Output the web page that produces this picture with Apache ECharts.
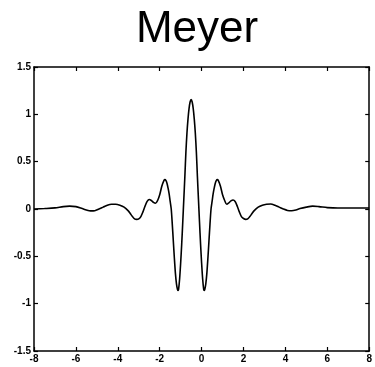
<!DOCTYPE html>
<html>
<head>
<meta charset="utf-8">
<script src="https://cdn.jsdelivr.net/npm/echarts@6/dist/echarts.min.js"></script>
<style>html,body{margin:0;padding:0;background:#fff}#c{width:375px;height:367px}</style>
</head>
<body>
<div id="c"></div>
<script>
var titleText = 'Meyer';
var xTicks = [-8, -6, -4, -2, 0, 2, 4, 6, 8];
var yTicks = [-1.5, -1, -0.5, 0, 0.5, 1, 1.5];
var tValues = [
  -8.0, -7.5, -7.0, -6.6, -6.3, -6.0, -5.7, -5.5, -5.3, -5.1, -4.9, -4.7, -4.5, -4.3, -4.1,
  -3.9, -3.7, -3.5, -3.4, -3.3, -3.2, -3.1, -3.0, -2.9, -2.8, -2.7, -2.6, -2.5, -2.4, -2.3,
  -2.2, -2.1, -2.0, -1.9, -1.8, -1.75, -1.7, -1.65, -1.6, -1.55, -1.5, -1.45, -1.4, -1.35,
  -1.3, -1.25, -1.2, -1.15, -1.12, -1.1, -1.05, -1.0, -0.95, -0.9, -0.85, -0.8, -0.75, -0.7,
  -0.65, -0.6, -0.55, -0.5, -0.45, -0.4, -0.35, -0.3, -0.25, -0.2, -0.15, -0.1, -0.05, 0.0,
  0.05, 0.1, 0.12, 0.15, 0.2, 0.25, 0.3, 0.35, 0.4, 0.45, 0.5, 0.55, 0.6, 0.65, 0.7, 0.75,
  0.8, 0.9, 1.0, 1.1, 1.2, 1.3, 1.4, 1.5, 1.6, 1.7, 1.8, 1.9, 2.0, 2.1, 2.2, 2.3, 2.4, 2.5,
  2.7, 2.9, 3.1, 3.3, 3.5, 3.7, 3.9, 4.1, 4.3, 4.5, 4.7, 5.0, 5.3, 5.6, 6.0, 6.5, 7.0, 7.5, 8.0
];
var psiValues = [
  0.0, 0.005, 0.012, 0.025, 0.03, 0.025, 0.005, -0.01, -0.02, -0.018, 0.0, 0.02, 0.04, 0.05, 0.05,
  0.04, 0.02, -0.02, -0.05, -0.08, -0.105, -0.11, -0.105, -0.08, -0.03, 0.03, 0.08, 0.10, 0.09, 0.07,
  0.06, 0.09, 0.15, 0.24, 0.30, 0.31, 0.30, 0.27, 0.22, 0.16, 0.08, 0.0, -0.16, -0.34,
  -0.52, -0.68, -0.79, -0.85, -0.86, -0.85, -0.74, -0.57, -0.37, -0.14, 0.10, 0.34, 0.60, 0.80,
  0.95, 1.06, 1.13, 1.155, 1.13, 1.06, 0.95, 0.80, 0.60, 0.34, 0.10, -0.14, -0.37, -0.57,
  -0.74, -0.85, -0.86, -0.85, -0.79, -0.68, -0.52, -0.34, -0.16, 0.0, 0.08, 0.16, 0.22, 0.27, 0.30, 0.31,
  0.30, 0.24, 0.15, 0.09, 0.05, 0.065, 0.085, 0.095, 0.08, 0.03, -0.03, -0.08, -0.10, -0.11, -0.105, -0.08, -0.05, -0.02,
  0.02, 0.04, 0.05, 0.053, 0.04, 0.02, 0.0, -0.015, -0.018, -0.01, 0.005, 0.02, 0.03, 0.025, 0.015, 0.01, 0.01, 0.01, 0.01
];

var seriesData = tValues.map(function (t, i) { return [t, psiValues[i]]; });
var chart = echarts.init(document.getElementById('c'), null, {renderer: 'canvas'});
var axisLineStyle = {show: true, onZero: false, lineStyle: {color: '#000', width: 1.5}};
var tickStyle = {show: true, inside: true, length: 4, lineStyle: {color: '#000', width: 1.2}};
var labelStyle = {color: '#000', fontSize: 10, fontWeight: 'bold', fontFamily: 'Liberation Sans, Arial, sans-serif'};
chart.setOption({
  animation: false,
  backgroundColor: '#fff',
  title: {
    text: titleText, left: 192, top: 3, textAlign: 'center',
    textStyle: {fontSize: 44, fontWeight: 'normal', color: '#000', fontFamily: 'Liberation Sans, Arial, sans-serif'}
  },
  grid: {left: 34, top: 67, right: 2, bottom: 16, containLabel: false},
  xAxis: [
    {type: 'value', min: xTicks[0], max: xTicks[xTicks.length - 1], interval: 2, position: 'bottom',
     axisLine: axisLineStyle, axisTick: tickStyle, splitLine: {show: false},
     axisLabel: Object.assign({margin: 3}, labelStyle)},
    {type: 'value', min: xTicks[0], max: xTicks[xTicks.length - 1], interval: 2, position: 'top',
     axisLine: axisLineStyle, axisTick: tickStyle, splitLine: {show: false}, axisLabel: {show: false}}
  ],
  yAxis: [
    {type: 'value', min: yTicks[0], max: yTicks[yTicks.length - 1], interval: 0.5, position: 'left',
     axisLine: axisLineStyle, axisTick: tickStyle, splitLine: {show: false},
     axisLabel: Object.assign({margin: 3}, labelStyle)},
    {type: 'value', min: yTicks[0], max: yTicks[yTicks.length - 1], interval: 0.5, position: 'right',
     axisLine: axisLineStyle, axisTick: tickStyle, splitLine: {show: false}, axisLabel: {show: false}}
  ],
  series: [{
    type: 'line', data: seriesData, showSymbol: false, smooth: 0.3,
    xAxisIndex: 0, yAxisIndex: 0,
    lineStyle: {color: '#000', width: 1.6}
  }]
});
</script>
</body>
</html>
